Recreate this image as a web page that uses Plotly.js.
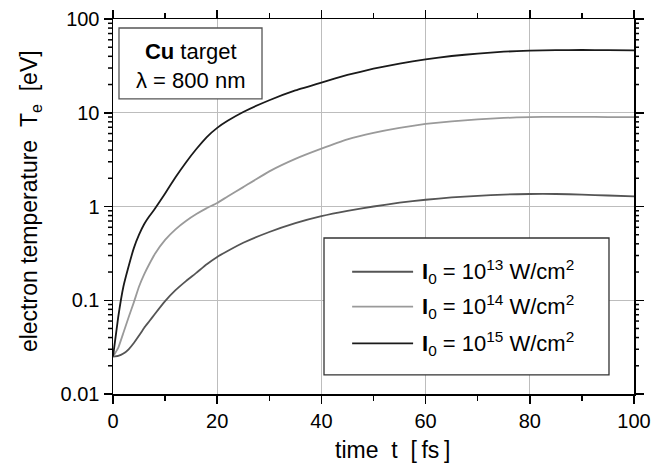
<!DOCTYPE html>
<html>
<head>
<meta charset="utf-8">
<script src="https://cdn.plot.ly/plotly-3.0.1.min.js"></script>
<style>html,body{margin:0;padding:0;background:#fff;}#chart{width:665px;height:465px;}</style>
</head>
<body>
<div id="chart"></div>
<script>
// time axis (fs)
const timeFs = [0, 1, 2, 3, 4, 5, 6, 7, 8, 10, 12, 14, 16, 18, 20, 22, 25, 30, 35, 40, 45, 50, 55, 60, 65, 70, 75, 80, 85, 90, 95, 100];
// electron temperature (eV)
const te13 = [0.025, 0.0255, 0.027, 0.030, 0.035, 0.042, 0.051, 0.060, 0.071, 0.098, 0.128, 0.16, 0.196, 0.242, 0.29, 0.335, 0.41, 0.535, 0.665, 0.79, 0.90, 1.00, 1.10, 1.18, 1.25, 1.30, 1.34, 1.36, 1.36, 1.34, 1.31, 1.28];
const te14 = [0.025, 0.031, 0.045, 0.066, 0.095, 0.14, 0.19, 0.245, 0.31, 0.44, 0.57, 0.70, 0.83, 0.96, 1.09, 1.28, 1.61, 2.37, 3.22, 4.14, 5.2, 6.1, 6.9, 7.6, 8.1, 8.5, 8.8, 9.0, 9.05, 9.05, 9.0, 9.0];
const te15 = [0.025, 0.066, 0.14, 0.23, 0.36, 0.50, 0.65, 0.79, 0.94, 1.38, 2.05, 2.95, 4.1, 5.5, 6.9, 8.2, 10.2, 13.6, 17.3, 21.0, 25.3, 29.5, 33.5, 37.0, 40.3, 42.8, 44.8, 46.0, 46.6, 46.7, 46.6, 46.3];

const seriesNames = ['<b>I</b><sub>0</sub> = 10<sup>13</sup> W/cm<sup>2</sup>',
                     '<b>I</b><sub>0</sub> = 10<sup>14</sup> W/cm<sup>2</sup>',
                     '<b>I</b><sub>0</sub> = 10<sup>15</sup> W/cm<sup>2</sup>'];
const seriesColors = ['#555555', '#9a9a9a', '#1a1a1a'];
const seriesData = [te13, te14, te15];

const yTickVals = [0.01, 0.1, 1, 10, 100];
const yTickText = ['0.01', '0.1', '1', '10', '100'];
const xTickVals = [0, 20, 40, 60, 80, 100];
const yRangeLog = [-2, 2];

// minor log ticks (2..9 in every decade)
const yMinor = [];
[0.01, 0.1, 1, 10].forEach(dec => { for (let m = 2; m <= 9; m++) yMinor.push(dec * m); });

const FONT = 'Liberation Sans, Arial, Helvetica, sans-serif';
const W = 665, H = 465, M = {l: 113, r: 31, t: 19, b: 71};
const plotW = W - M.l - M.r;

const traces = seriesData.map((d, i) => ({
  x: timeFs, y: d, type: 'scatter', mode: 'lines',
  name: seriesNames[i],
  line: {color: seriesColors[i], width: 1.8, shape: 'spline', smoothing: 0.35},
  showlegend: false
}));

// manual legend (paper coordinates)
const legY = [0.326, 0.233, 0.135];
const shapes = [
  {type: 'rect', xref: 'paper', yref: 'paper', x0: 0.0115, x1: 0.286, y0: 0.787, y1: 0.976,
   line: {color: '#555', width: 1.3}, fillcolor: 'white'},
  {type: 'rect', xref: 'paper', yref: 'paper', x0: 0.405, x1: 0.952, y0: 0.051, y1: 0.416,
   line: {color: '#333', width: 1.3}, fillcolor: 'white'}
];
// minor ticks on the log axis (left and right)
const tickPaper = 5 / plotW;
yMinor.forEach(v => {
  const p = (Math.log10(v) - yRangeLog[0]) / (yRangeLog[1] - yRangeLog[0]);
  shapes.push({type: 'line', xref: 'paper', yref: 'paper', x0: -tickPaper, x1: 0,
    y0: p, y1: p, line: {color: '#000', width: 1.5}, layer: 'above'});
  shapes.push({type: 'line', xref: 'paper', yref: 'paper', x0: 1, x1: 1 + tickPaper,
    y0: p, y1: p, line: {color: '#000', width: 1.5}, layer: 'above'});
});
const annotations = [
  {xref: 'paper', yref: 'paper', x: 0.148, y: 0.875, xanchor: 'center', yanchor: 'middle',
   text: '<b>Cu</b> target<br>λ = 800 nm', showarrow: false,
   font: {family: FONT, size: 22, color: '#000'}},
  {xref: 'paper', yref: 'paper', x: 0.537, y: -0.149, xanchor: 'center', yanchor: 'middle',
   text: 'time\u00A0\u00A0t\u00A0\u00A0[\u2009fs\u2009]', showarrow: false,
   font: {family: FONT, size: 23, color: '#000'}},
  {xref: 'paper', yref: 'paper', x: -0.157, y: 0.515, xanchor: 'center', yanchor: 'middle',
   textangle: -90,
   text: 'electron temperature\u00A0\u00A0T<sub>e</sub>\u00A0\u00A0[eV]', showarrow: false,
   font: {family: FONT, size: 23, color: '#000'}}
];
seriesNames.forEach((n, i) => {
  shapes.push({type: 'line', xref: 'paper', yref: 'paper', x0: 0.459, x1: 0.576, y0: legY[i], y1: legY[i],
    line: {color: seriesColors[i], width: 1.8}});
  annotations.push({xref: 'paper', yref: 'paper', x: 0.59, y: legY[i], xanchor: 'left', yanchor: 'middle',
    text: n, showarrow: false, font: {family: FONT, size: 22, color: '#000'}});
});

const layout = {
  width: W, height: H,
  margin: M,
  paper_bgcolor: '#fff', plot_bgcolor: '#fff',
  font: {family: FONT, size: 20, color: '#000'},
  showlegend: false,
  xaxis: {
    range: [0, 100], tickmode: 'array', tickvals: xTickVals,
    ticks: 'outside', ticklen: 8, tickwidth: 1.5, tickcolor: '#000',
    showline: true, linecolor: '#000', linewidth: 1.5, mirror: 'ticks',
    showgrid: true, gridcolor: '#bdbdbd', gridwidth: 1, zeroline: false,
    tickfont: {family: FONT, size: 20, color: '#000'},
    minor: {dtick: 10, ticks: 'outside', ticklen: 5, tickwidth: 1.3, tickcolor: '#000', showgrid: false}
  },
  yaxis: {
    type: 'log', range: yRangeLog, tickmode: 'array', tickvals: yTickVals, ticktext: yTickText,
    ticks: 'outside', ticklen: 8, tickwidth: 1.5, tickcolor: '#000',
    showline: true, linecolor: '#000', linewidth: 1.5, mirror: 'ticks',
    showgrid: true, gridcolor: '#bdbdbd', gridwidth: 1, zeroline: false,
    tickfont: {family: FONT, size: 20, color: '#000'}
  },
  shapes: shapes,
  annotations: annotations
};

Plotly.newPlot('chart', traces, layout, {displayModeBar: false, staticPlot: true});
</script>
</body>
</html>
